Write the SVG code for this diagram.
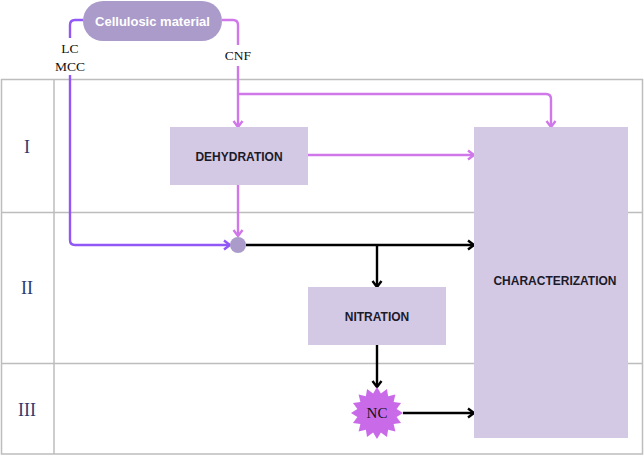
<svg xmlns="http://www.w3.org/2000/svg" width="644" height="456" viewBox="0 0 644 456">
<style>
.grid{fill:none;stroke:#bdbdbd;stroke-width:1.5}
.box{fill:#d3c9e5}
.lbl{font-family:"Liberation Sans",Arial,sans-serif;font-weight:bold;font-size:12px;fill:#1c1a2a;text-anchor:middle}
.ser{font-family:"Liberation Serif","Times New Roman",serif;font-size:13.5px;fill:#111;text-anchor:middle}
.row{font-family:"Liberation Serif","Times New Roman",serif;font-size:18px;fill:#2e3a6c;text-anchor:middle}
.p{fill:none;stroke:#9158f5;stroke-width:2.4}
.m{fill:none;stroke:#d077ea;stroke-width:2.4}
.k{fill:none;stroke:#000;stroke-width:2.4}
</style>
<defs>
<marker id="ap" viewBox="0 0 12 12" refX="11" refY="6" markerWidth="12" markerHeight="12" markerUnits="userSpaceOnUse" orient="auto"><path d="M5,1.5 L11,6 L5,10.5" fill="none" stroke="#9158f5" stroke-width="2.4"/></marker>
<marker id="am" viewBox="0 0 12 12" refX="11" refY="6" markerWidth="12" markerHeight="12" markerUnits="userSpaceOnUse" orient="auto"><path d="M5,1.5 L11,6 L5,10.5" fill="none" stroke="#d077ea" stroke-width="2.4"/></marker>
<marker id="ab" viewBox="0 0 12 12" refX="11" refY="6" markerWidth="12" markerHeight="12" markerUnits="userSpaceOnUse" orient="auto"><path d="M5,1.5 L11,6 L5,10.5" fill="none" stroke="#000" stroke-width="2.4"/></marker>
</defs>
<rect width="644" height="456" fill="#fff"/>
<g id="table">
<rect class="grid" x="1.5" y="79.5" width="641" height="374.5"/>
<line class="grid" x1="54" y1="79.5" x2="54" y2="454"/>
<line class="grid" x1="1.5" y1="212.5" x2="642.5" y2="212.5"/>
<line class="grid" x1="1.5" y1="363.5" x2="642.5" y2="363.5"/>
<text class="row" x="27" y="153">I</text>
<text class="row" x="27" y="294">II</text>
<text class="row" x="27" y="416">III</text>
</g>
<g id="connectors">
<path class="p" d="M83,20 H75 Q70,20 70,25 V38"/>
<path class="p" d="M70,75 V240 Q70,245 75,245 H230" marker-end="url(#ap)"/>
<path class="m" d="M222,20 H233 Q238,20 238,25 V45"/>
<path class="m" d="M238,66 V127" marker-end="url(#am)"/>
<path class="m" d="M238,94 H546 Q551,94 551,99 V127" marker-end="url(#am)"/>
<path class="m" d="M308,155 H474" marker-end="url(#am)"/>
<path class="m" d="M238,185 V236" marker-end="url(#am)"/>
<path class="k" d="M246,245 H474" marker-end="url(#ab)"/>
<path class="k" d="M377,245 V287" marker-end="url(#ab)"/>
<path class="k" d="M377,345 V387" marker-end="url(#ab)"/>
<path class="k" d="M403,413 H474" marker-end="url(#ab)"/>
<text class="ser" x="70" y="53">LC</text>
<text class="ser" x="70" y="71">MCC</text>
<text class="ser" x="238" y="60">CNF</text>
</g>
<g id="cellulosic">
<rect x="83" y="1" width="139" height="40" rx="20" fill="#ab9bca"/>
<text class="lbl" x="152.5" y="25.5" style="fill:#fff;font-size:13px">Cellulosic material</text>
</g>
<g id="dehydration">
<rect class="box" x="170" y="127" width="138" height="58"/>
<text class="lbl" x="239" y="160.5">DEHYDRATION</text>
</g>
<g id="junction">
<circle cx="238" cy="245" r="8" fill="#ab9bca"/>
</g>
<g id="nitration">
<rect class="box" x="308" y="287" width="138" height="58"/>
<text class="lbl" x="377" y="320.5">NITRATION</text>
</g>
<g id="nc">
<polygon transform="translate(377,413)" fill="#c96be9" points="0,-26 3.9,-19.62 9.950,-24.02 11.11,-16.63 18.38,-18.38 16.63,-11.11 24.02,-9.95 19.62,-3.9 26,0 19.62,3.9 24.02,9.95 16.63,11.11 18.38,18.38 11.11,16.63 9.95,24.02 3.9,19.62 0,26 -3.9,19.62 -9.95,24.02 -11.11,16.63 -18.38,18.38 -16.63,11.11 -24.02,9.95 -19.62,3.9 -26,0 -19.62,-3.9 -24.02,-9.95 -16.63,-11.11 -18.38,-18.38 -11.11,-16.63 -9.95,-24.02 -3.9,-19.62"/>
<text class="ser" x="377" y="418" style="font-size:15px">NC</text>
</g>
<g id="characterization">
<rect class="box" x="474" y="127" width="154" height="311"/>
<text class="lbl" x="555" y="284.5">CHARACTERIZATION</text>
</g>
</svg>
